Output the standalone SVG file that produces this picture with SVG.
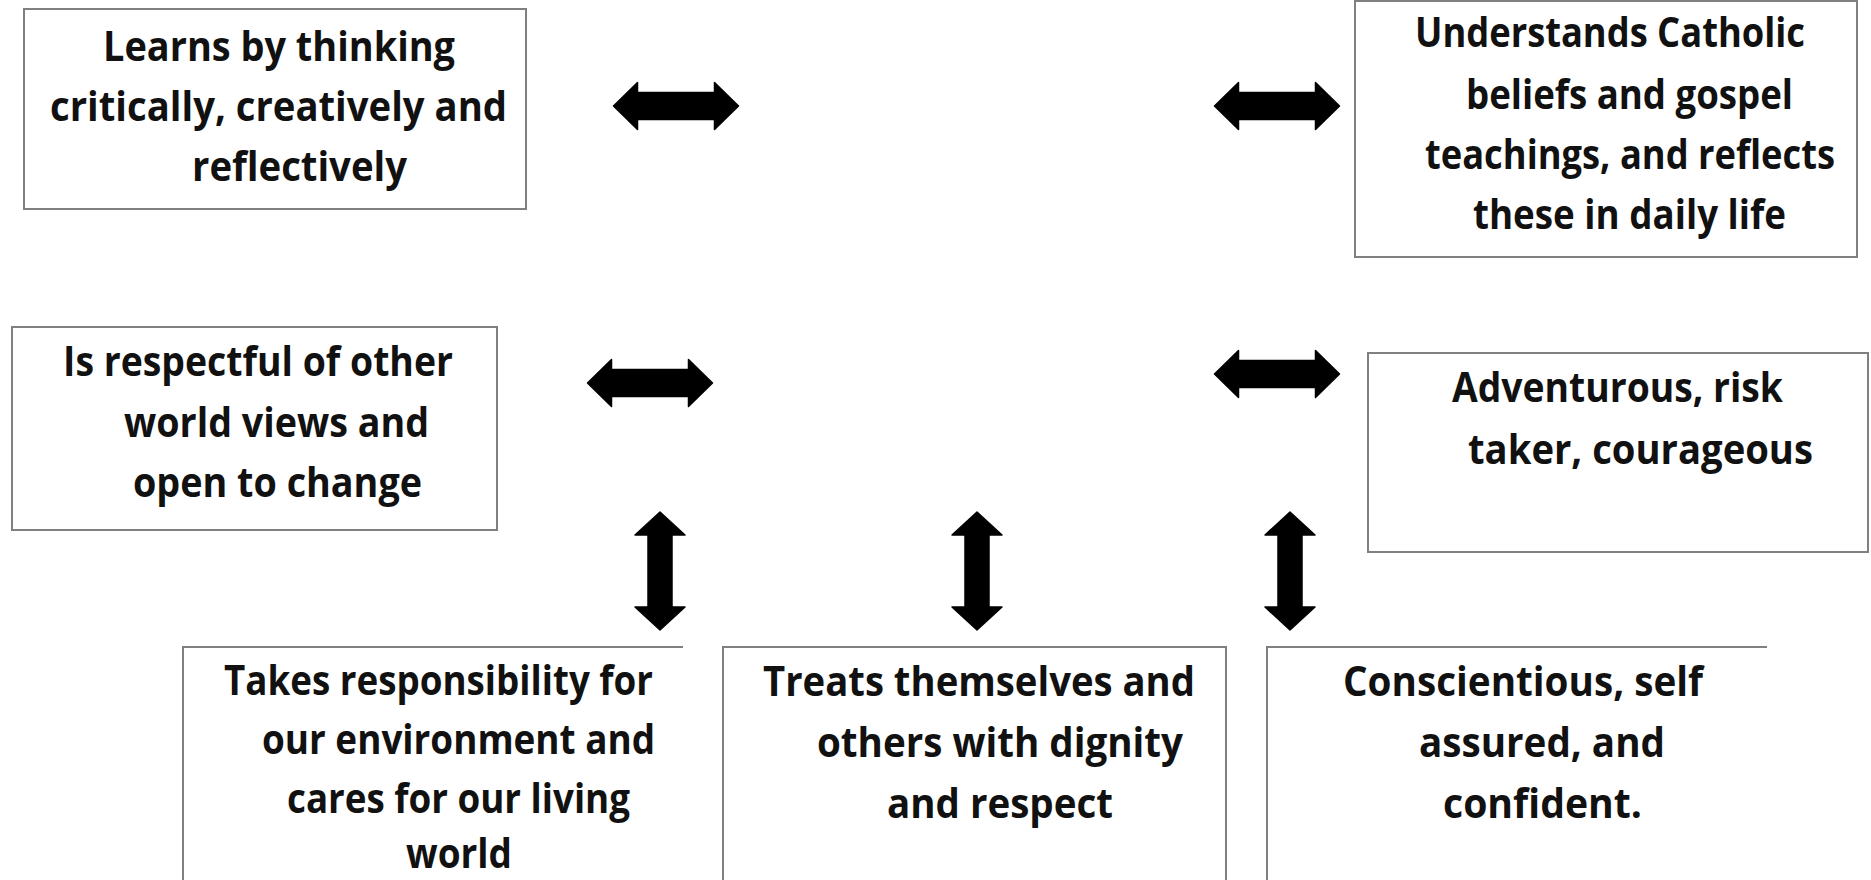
<svg xmlns="http://www.w3.org/2000/svg" xmlns:xlink="http://www.w3.org/1999/xlink" width="1871" height="880" viewBox="0 0 1871 880">
  <style>
    .box { fill: #ffffff; stroke: #808080; stroke-width: 2; }
    .edge { fill: none; stroke: #808080; stroke-width: 2; }
    .lbl { font-family: "Open Sans", "Liberation Sans", sans-serif; font-weight: 700; font-size: 42px; fill: #111111; }
    .arr { fill: #000000; stroke: #000000; stroke-width: 1.5; stroke-linejoin: round; }
  </style>
  <defs>
    <path id="harrow" d="M-62.5,0 L-38.5,-23.5 L-38.5,-13.5 L38.5,-13.5 L38.5,-23.5 L62.5,0 L38.5,23.5 L38.5,13.5 L-38.5,13.5 L-38.5,23.5 Z"/>
    <path id="varrow" d="M0,-59 L25,-36 L12,-36 L12,36 L25,36 L0,59 L-25,36 L-12,36 L-12,-36 L-25,-36 Z"/>
  </defs>
  <rect width="1871" height="880" fill="#ffffff"/>

  <g id="node-learns">
    <rect class="box" x="24" y="9" width="502" height="200"/>
    <text class="lbl" x="103" y="61" textLength="352" lengthAdjust="spacingAndGlyphs">Learns by thinking</text>
    <text class="lbl" x="50" y="121" textLength="457" lengthAdjust="spacingAndGlyphs">critically, creatively and</text>
    <text class="lbl" x="192" y="181" textLength="215" lengthAdjust="spacingAndGlyphs">reflectively</text>
  </g>

  <g id="node-understands">
    <rect class="box" x="1355" y="1" width="502" height="256"/>
    <text class="lbl" x="1415" y="47" textLength="390" lengthAdjust="spacingAndGlyphs">Understands Catholic</text>
    <text class="lbl" x="1466" y="109" textLength="327" lengthAdjust="spacingAndGlyphs">beliefs and gospel</text>
    <text class="lbl" x="1425" y="169" textLength="410" lengthAdjust="spacingAndGlyphs">teachings, and reflects</text>
    <text class="lbl" x="1473" y="229" textLength="313" lengthAdjust="spacingAndGlyphs">these in daily life</text>
  </g>

  <g id="node-respectful">
    <rect class="box" x="12" y="327" width="485" height="203"/>
    <text class="lbl" x="63" y="376" textLength="390" lengthAdjust="spacingAndGlyphs">Is respectful of other</text>
    <text class="lbl" x="124" y="437" textLength="305" lengthAdjust="spacingAndGlyphs">world views and</text>
    <text class="lbl" x="133" y="497" textLength="289" lengthAdjust="spacingAndGlyphs">open to change</text>
  </g>

  <g id="node-adventurous">
    <rect class="box" x="1368" y="353" width="500" height="199"/>
    <text class="lbl" x="1452" y="402" textLength="331" lengthAdjust="spacingAndGlyphs">Adventurous, risk</text>
    <text class="lbl" x="1468" y="464" textLength="345" lengthAdjust="spacingAndGlyphs">taker, courageous</text>
  </g>

  <g id="node-responsibility">
    <path class="edge" d="M183,880 L183,647 L683,647"/>
    <text class="lbl" x="224" y="695" textLength="429" lengthAdjust="spacingAndGlyphs">Takes responsibility for</text>
    <text class="lbl" x="262" y="754" textLength="393" lengthAdjust="spacingAndGlyphs">our environment and</text>
    <text class="lbl" x="287" y="813" textLength="343" lengthAdjust="spacingAndGlyphs">cares for our living</text>
    <text class="lbl" x="406" y="868" textLength="106" lengthAdjust="spacingAndGlyphs">world</text>
  </g>

  <g id="node-dignity">
    <path class="edge" d="M723,880 L723,647 L1226,647 L1226,880"/>
    <text class="lbl" x="763" y="696" textLength="432" lengthAdjust="spacingAndGlyphs">Treats themselves and</text>
    <text class="lbl" x="817" y="757" textLength="366" lengthAdjust="spacingAndGlyphs">others with dignity</text>
    <text class="lbl" x="887" y="818" textLength="226" lengthAdjust="spacingAndGlyphs">and respect</text>
  </g>

  <g id="node-conscientious">
    <path class="edge" d="M1267,880 L1267,647 L1767,647"/>
    <text class="lbl" x="1343" y="696" textLength="360" lengthAdjust="spacingAndGlyphs">Conscientious, self</text>
    <text class="lbl" x="1419" y="757" textLength="246" lengthAdjust="spacingAndGlyphs">assured, and</text>
    <text class="lbl" x="1443" y="818" textLength="199" lengthAdjust="spacingAndGlyphs">confident.</text>
  </g>

  <g id="connectors">
    <use class="arr" xlink:href="#harrow" href="#harrow" transform="translate(676,106)"/>
    <use class="arr" xlink:href="#harrow" href="#harrow" transform="translate(1277,106)"/>
    <use class="arr" xlink:href="#harrow" href="#harrow" transform="translate(650,383)"/>
    <use class="arr" xlink:href="#harrow" href="#harrow" transform="translate(1277,374)"/>
    <use class="arr" xlink:href="#varrow" href="#varrow" transform="translate(660,571)"/>
    <use class="arr" xlink:href="#varrow" href="#varrow" transform="translate(977,571)"/>
    <use class="arr" xlink:href="#varrow" href="#varrow" transform="translate(1290,571)"/>
  </g>
</svg>
